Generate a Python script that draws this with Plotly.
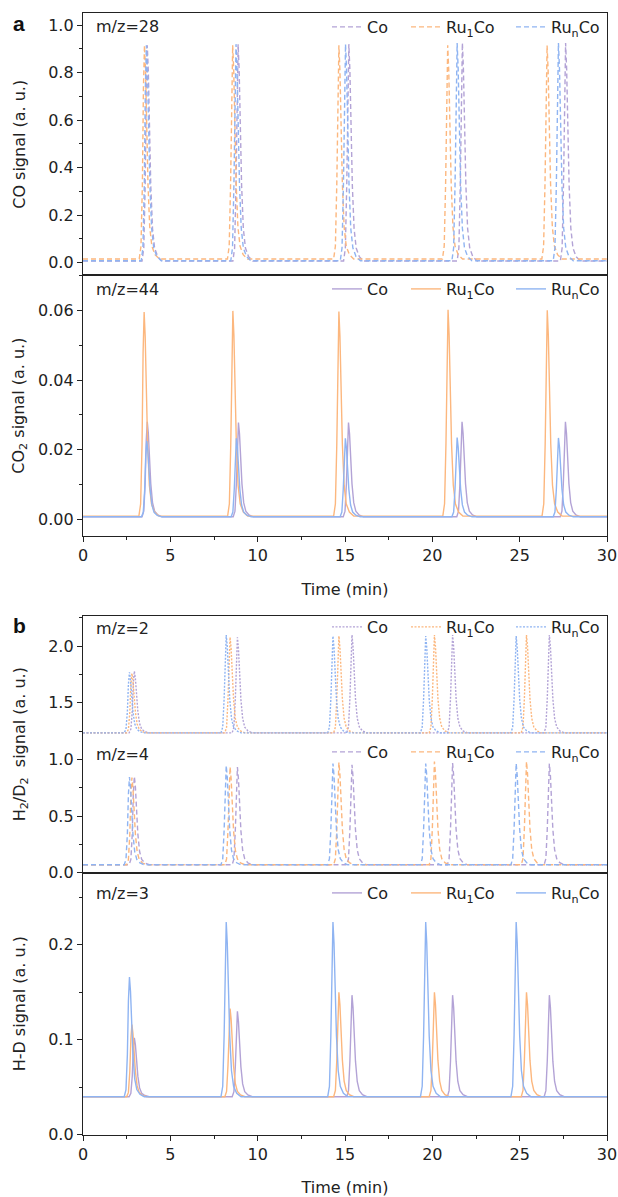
import plotly.graph_objects as go

# ---------------- data ----------------
names = ["Co", "Ru<sub>1</sub>Co", "Ru<sub>n</sub>Co"]
colors = ["#b3a3d6", "#fcb77e", "#8fb4f2"]
legend_widths = [34, 60, None]

# common peak profile: offset from apex (min) and fraction of apex height above baseline
profile_dt = [-0.30, -0.20, -0.12, -0.06, 0.0, 0.06, 0.13, 0.20, 0.30, 0.42, 0.60, 0.85]
profile_frac = [0.0, 0.06, 0.35, 0.80, 1.0, 0.88, 0.60, 0.35, 0.15, 0.06, 0.02, 0.0]

# m/z = 28 (CO)
co_base = [0.006, 0.015, 0.007]
co_t_Co = [3.68, 8.88, 15.22, 21.72, 27.63]
co_t_Ru1 = [3.52, 8.57, 14.65, 20.88, 26.57]
co_t_Run = [3.63, 8.76, 15.03, 21.42, 27.22]
co_h_Co = [0.915, 0.92, 0.92, 0.925, 0.925]
co_h_Ru1 = [0.915, 0.915, 0.915, 0.915, 0.915]
co_h_Run = [0.915, 0.92, 0.92, 0.925, 0.925]

# m/z = 44 (CO2)
co2_base = [0.0008, 0.001, 0.0008]
co2_t_Co = [3.68, 8.90, 15.20, 21.70, 27.62]
co2_t_Ru1 = [3.50, 8.58, 14.65, 20.90, 26.58]
co2_t_Run = [3.65, 8.78, 15.02, 21.42, 27.22]
co2_h_Co = [0.0280, 0.0278, 0.0278, 0.0280, 0.0280]
co2_h_Ru1 = [0.0595, 0.0598, 0.0596, 0.0601, 0.0600]
co2_h_Run = [0.0225, 0.0233, 0.0233, 0.0235, 0.0234]

# m/z = 2 (H2), m/z = 4 (D2), m/z = 3 (H-D): same pulse times
hd_t_Co = [2.94, 8.84, 15.40, 21.16, 26.70]
hd_t_Ru1 = [2.80, 8.42, 14.65, 20.12, 25.39]
hd_t_Run = [2.66, 8.20, 14.31, 19.62, 24.80]

h2_base = [1.235, 1.235, 1.235]
h2_h_Co = [1.78, 2.08, 2.10, 2.10, 2.10]
h2_h_Ru1 = [1.76, 2.08, 2.09, 2.10, 2.10]
h2_h_Run = [1.77, 2.10, 2.09, 2.09, 2.09]

d2_base = [0.07, 0.07, 0.07]
d2_h_Co = [0.85, 0.933, 0.953, 0.968, 0.965]
d2_h_Ru1 = [0.84, 0.935, 0.974, 0.982, 0.982]
d2_h_Run = [0.845, 0.947, 0.965, 0.965, 0.965]

hdx_base = [0.040, 0.040, 0.040]
hdx_h_Co = [0.102, 0.130, 0.147, 0.147, 0.147]
hdx_h_Ru1 = [0.116, 0.133, 0.150, 0.150, 0.150]
hdx_h_Run = [0.166, 0.224, 0.224, 0.224, 0.224]

t_start, t_end = 0.0, 30.0


def build(base, times, heights):
    xs, ys = [t_start], [base]
    for tp, hp in zip(times, heights):
        for dt, fr in zip(profile_dt, profile_frac):
            xs.append(tp + dt)
            ys.append(base + (hp - base) * fr)
    xs.append(t_end)
    ys.append(base)
    return xs, ys


# ---------------- geometry ----------------
W, H = 618, 1197
ML, MR, MT, MB = 83, 11, 13, 62
PW, PH = W - ML - MR, H - MT - MB


def xp(px):
    return (px - ML) / PW


def yp(py):
    return (H - MB - py) / PH


def ydom(top, bottom):
    return [max(0.0, yp(bottom)), min(1.0, yp(top))]


FONT = "DejaVu Sans, Liberation Sans, Arial, sans-serif"
FS = 16
AX = "#222222"

fig = go.Figure()

panels = [
    # (xaxis, yaxis, legend, base, times, heights, dash)
    ("x", "y", "legend", co_base, [co_t_Co, co_t_Ru1, co_t_Run], [co_h_Co, co_h_Ru1, co_h_Run], "5px,3px"),
    ("x2", "y2", "legend2", co2_base, [co2_t_Co, co2_t_Ru1, co2_t_Run], [co2_h_Co, co2_h_Ru1, co2_h_Run], "solid"),
    ("x3", "y3", "legend3", h2_base, [hd_t_Co, hd_t_Ru1, hd_t_Run], [h2_h_Co, h2_h_Ru1, h2_h_Run], "2px,1.5px"),
    ("x3", "y3", "legend4", d2_base, [hd_t_Co, hd_t_Ru1, hd_t_Run], [d2_h_Co, d2_h_Ru1, d2_h_Run], "5px,3px"),
    ("x4", "y4", "legend5", hdx_base, [hd_t_Co, hd_t_Ru1, hd_t_Run], [hdx_h_Co, hdx_h_Ru1, hdx_h_Run], "solid"),
]

for xa, ya, lg, base, tlist, hlist, dash in panels:
    for i in range(3):
        xs, ys = build(base[i], tlist[i], hlist[i])
        kw = {}
        if legend_widths[i]:
            kw["legendwidth"] = legend_widths[i]
        fig.add_trace(go.Scatter(
            x=xs, y=ys, mode="lines", name=names[i], xaxis=xa, yaxis=ya, legend=lg,
            line=dict(color=colors[i], width=1.4, dash=dash), **kw,
        ))

dom_a1 = ydom(13.3, 275.3)
dom_a2 = ydom(275.3, 536.0)
dom_b1 = ydom(615.7, 872.7)
dom_b2 = ydom(872.7, 1134.7)

TF = dict(family=FONT, size=FS, color=AX)
common_x = dict(range=[0, 30], showline=True, linecolor=AX, linewidth=1.3, mirror=True,
                showgrid=False, zeroline=False, tickfont=TF)
common_y = dict(showline=True, linecolor=AX, linewidth=1.3, mirror=True, showgrid=False,
                zeroline=False, ticks="outside", ticklen=5, tickwidth=1.2, tickcolor=AX, tickfont=TF)

xt = dict(ticks="outside", ticklen=5, tickwidth=1.2, tickcolor=AX, dtick=5, tick0=0,
          minor=dict(ticks="outside", ticklen=3, dtick=2.5, tick0=0, tickcolor=AX))

fig.update_layout(
    xaxis=dict(**common_x, anchor="y", showticklabels=False, ticks=""),
    xaxis2=dict(**common_x, **xt, anchor="y2",
                title=dict(text="Time (min)", font=TF, standoff=19)),
    xaxis3=dict(**common_x, anchor="y3", showticklabels=False, ticks=""),
    xaxis4=dict(**common_x, **xt, anchor="y4",
                title=dict(text="Time (min)", font=TF, standoff=18)),
    yaxis=dict(**common_y, domain=dom_a1, anchor="x", range=[-0.054, 1.05], dtick=0.2, tick0=0,
               tickformat=".1f", minor=dict(ticks="outside", ticklen=3, dtick=0.1, tick0=0, tickcolor=AX),
               title=dict(text="CO signal (a. u.)", font=TF, standoff=18)),
    yaxis2=dict(**common_y, domain=dom_a2, anchor="x2", range=[-0.0047, 0.07], dtick=0.02, tick0=0,
                tickformat=".2f", minor=dict(ticks="outside", ticklen=3, dtick=0.01, tick0=0, tickcolor=AX),
                title=dict(text="CO<sub>2</sub> signal (a. u.)", font=TF, standoff=9)),
    yaxis3=dict(**common_y, domain=dom_b1, anchor="x3", range=[0, 2.27], dtick=0.5, tick0=0,
                tickformat=".1f", minor=dict(ticks="outside", ticklen=3, dtick=0.25, tick0=0, tickcolor=AX),
                title=dict(text="H<sub>2</sub>/D<sub>2</sub>\u00a0 signal (a. u.)", font=TF, standoff=18)),
    yaxis4=dict(**common_y, domain=dom_b2, anchor="x4", range=[0, 0.276], dtick=0.1, tick0=0,
                tickformat=".1f", minor=dict(ticks="outside", ticklen=3, dtick=0.05, tick0=0, tickcolor=AX),
                title=dict(text="H-D signal (a. u.)", font=TF, standoff=18)),
)

leg_common = dict(orientation="h", xanchor="right", yanchor="middle", x=xp(605),
                  bgcolor="rgba(0,0,0,0)", borderwidth=0, font=TF,
                  itemclick=False, itemdoubleclick=False, tracegroupgap=0)
fig.update_layout(
    legend=dict(**leg_common, y=yp(27)),
    legend2=dict(**leg_common, y=yp(289)),
    legend3=dict(**leg_common, y=yp(627)),
    legend4=dict(**leg_common, y=yp(752)),
    legend5=dict(**leg_common, y=yp(893)),
)

labels = [("m/z=28", 27), ("m/z=44", 290), ("m/z=2", 628), ("m/z=4", 754), ("m/z=3", 893)]
for txt, py in labels:
    fig.add_annotation(text=txt, xref="paper", yref="paper", x=xp(94), y=yp(py),
                       xanchor="left", yanchor="middle", showarrow=False, font=TF)

for txt, py in [("a", 23), ("b", 625)]:
    fig.add_annotation(text="<b>%s</b>" % txt, xref="paper", yref="paper", x=xp(19), y=yp(py),
                       xanchor="center", yanchor="middle", showarrow=False,
                       font=dict(family="Liberation Sans, Arial, sans-serif", size=21, color="#111111"))

fig.update_layout(
    width=W, height=H, margin=dict(l=ML, r=MR, t=MT, b=MB, autoexpand=False),
    paper_bgcolor="white", plot_bgcolor="white", showlegend=True,
    font=TF,
)

fig.write_html("out.html", config={"displayModeBar": False},
               post_script="document.body.style.margin='0';")
